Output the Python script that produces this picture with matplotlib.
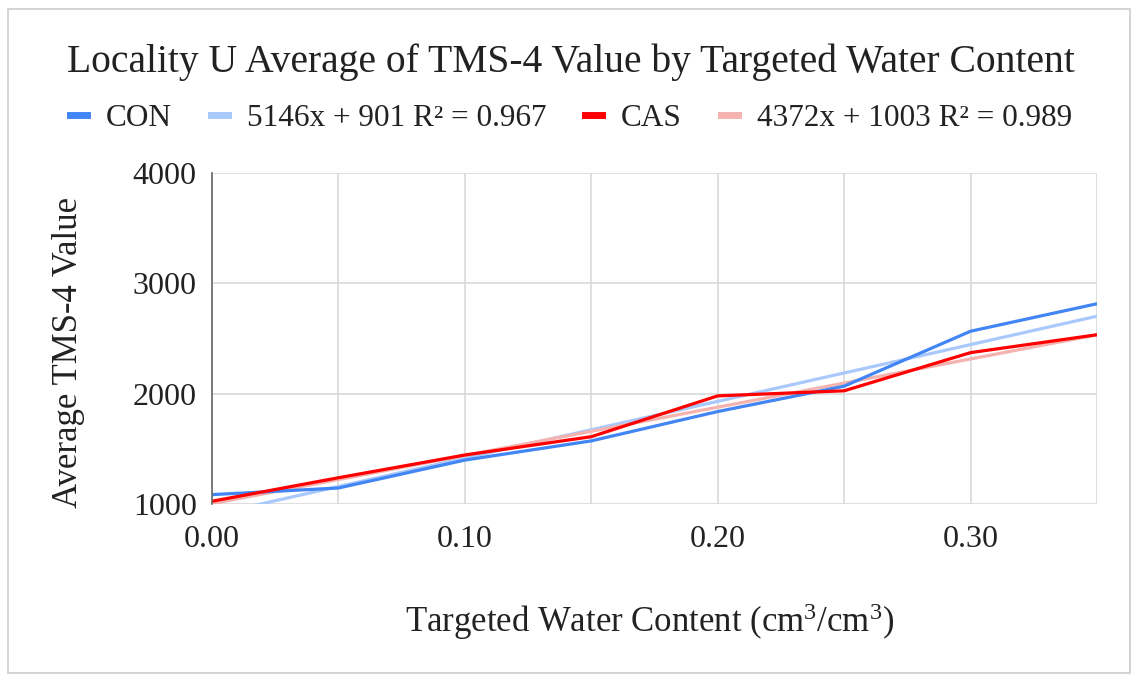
import matplotlib
matplotlib.use("Agg")
import matplotlib.pyplot as plt
import numpy as np
from matplotlib.patches import Rectangle

plt.rcParams['font.family'] = ['Liberation Serif', 'DejaVu Serif']
plt.rcParams['mathtext.fontset'] = 'custom'
plt.rcParams['mathtext.rm'] = 'Liberation Serif'
plt.rcParams['mathtext.it'] = 'Liberation Serif'

# Data
water_content = [0.00, 0.05, 0.10, 0.15, 0.20, 0.25, 0.30, 0.35]
con_values = [1085, 1145, 1398, 1572, 1838, 2068, 2566, 2815]
cas_values = [1025, 1238, 1444, 1610, 1980, 2026, 2372, 2534]
con_trend = (5146, 901)   # slope, intercept
cas_trend = (4372, 1003)

title = "Locality U Average of TMS-4 Value by Targeted Water Content"
labels = ["CON", "5146x + 901 R² = 0.967", "CAS", "4372x + 1003 R² = 0.989"]
x_ticks = [0.00, 0.10, 0.20, 0.30]
y_ticks = [1000, 2000, 3000, 4000]

c_con = '#4285F4'
c_con_t = '#A9C8FB'
c_cas = '#FF0000'
c_cas_t = '#F4B3AE'

fig = plt.figure(figsize=(11.33, 6.74), dpi=100)
ax = fig.add_axes([212/1133, 1-504/674, (1097-212)/1133, (504-173)/674])

x = np.array(water_content)
l1, = ax.plot(x, con_values, color=c_con, lw=2.3, zorder=4)
l2, = ax.plot(x, con_trend[0]*x + con_trend[1], color=c_con_t, lw=2.3, zorder=3)
l3, = ax.plot(x, cas_values, color=c_cas, lw=2.3, zorder=5)
l4, = ax.plot(x, cas_trend[0]*x + cas_trend[1], color=c_cas_t, lw=2.3, zorder=3)

ax.set_xlim(0, 0.35)
ax.set_ylim(1000, 4000)
ax.set_xticks(x_ticks)
ax.set_xticklabels([f"{v:.2f}" for v in x_ticks])
ax.set_xticks(water_content, minor=True)
ax.set_yticks(y_ticks)
ax.set_yticklabels([str(v) for v in y_ticks])
ax.tick_params(axis='both', which='both', length=0, labelsize=23, colors='#222222')
ax.tick_params(axis='x', pad=15)
ax.tick_params(axis='y', pad=11)
ax.grid(True, which='both', color='#d9d9d9', lw=1.2, zorder=0)
for s in ['top', 'right', 'bottom']:
    ax.spines[s].set_visible(False)
ax.spines['left'].set_color('#666666')
ax.spines['left'].set_linewidth(1.2)
ax.spines['left'].set_zorder(6)

ax.set_ylabel("Average TMS-4 Value", fontsize=25, color='#222222')
ax.yaxis.set_label_coords((85-212)/885, 0.458)
fig.text(650/1133, 1-622/674, "Targeted Water Content (cm$^{3}$/cm$^{3}$)",
         ha='center', va='center', fontsize=25, color='#222222')
fig.text(571/1133, 1-62/674, title, ha='center', va='center', fontsize=28.5, color='#222222')

leg = fig.legend([l1, l2, l3, l4], labels, loc='center', bbox_to_anchor=(571/1133, 1-118/674),
                 ncol=4, frameon=False, fontsize=22.5, handlelength=0.55, handletextpad=0.6,
                 columnspacing=1.25, labelcolor='#222222')
for h in leg.get_lines():
    h.set_linewidth(5)

fig.patches.append(Rectangle((8/1133, 1/674), 1122/1133, 664/674, transform=fig.transFigure,
                             fill=False, edgecolor='#cccccc', lw=1.2))

fig.savefig("out.png", dpi=100)
